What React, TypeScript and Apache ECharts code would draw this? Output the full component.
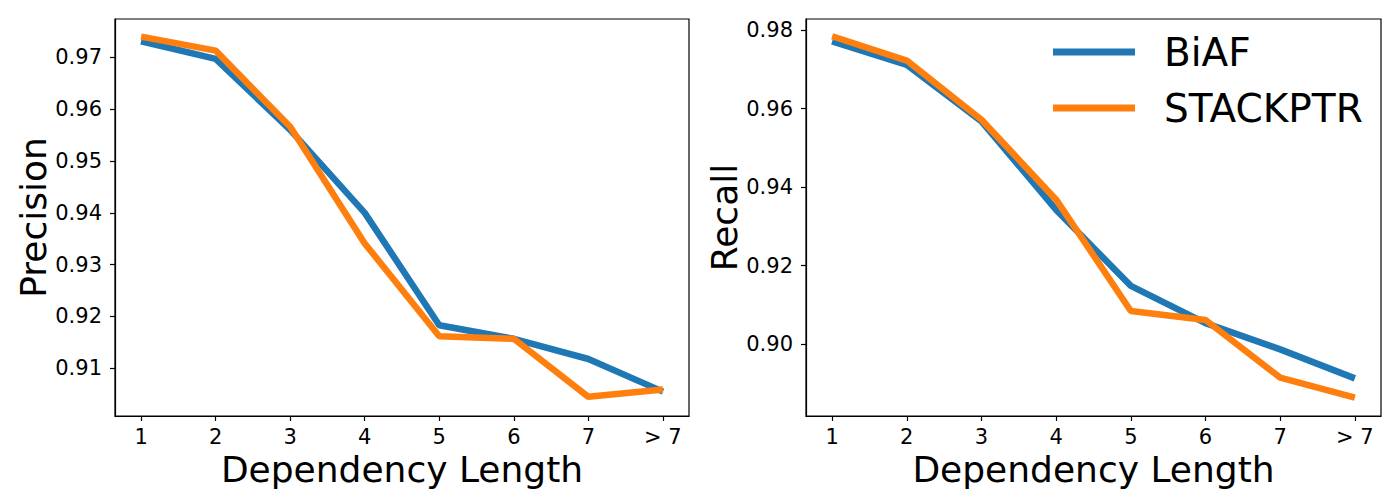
import React, { useEffect, useRef } from "react";
import * as echarts from "echarts";

const xLabels = ["1", "2", "3", "4", "5", "6", "7", "> 7"];
const seriesNames = ["BiAF", "STACKPTR"];

const precisionBiAF = [0.9731, 0.9697, 0.956, 0.94, 0.9183, 0.9157, 0.9118, 0.9055];
const precisionStack = [0.974, 0.9713, 0.9566, 0.9341, 0.9162, 0.9157, 0.9045, 0.9059];

const recallBiAF = [0.9772, 0.9712, 0.9568, 0.9342, 0.9148, 0.9053, 0.8986, 0.8912];
const recallStack = [0.9785, 0.9723, 0.9572, 0.9368, 0.9084, 0.9061, 0.8914, 0.8863];

const precisionTicks = [0.91, 0.92, 0.93, 0.94, 0.95, 0.96, 0.97];
const recallTicks = [0.9, 0.92, 0.94, 0.96, 0.98];
const xTicks = [0, 1, 2, 3, 4, 5, 6, 7];

const BLUE = "#1f77b4";
const ORANGE = "#ff7f0e";
const FONT = "DejaVu Sans";

function toPairs(vals: number[]) {
  return vals.map((v, i) => [i, v]);
}

export default function App() {
  const ref = useRef<HTMLDivElement>(null);

  useEffect(() => {
    document.body.style.margin = "0";
    if (!ref.current) return;
    const chart = echarts.init(ref.current, undefined, { renderer: "svg" });

    const xAxisBase = (gridIndex: number) => ({
      type: "value",
      gridIndex,
      min: -0.35,
      max: 7.35,
      name: "Dependency Length",
      nameLocation: "middle",
      nameGap: 31,
      nameTextStyle: { fontSize: 36, fontFamily: FONT, color: "#000" },
      splitLine: { show: false },
      axisLine: { show: true, onZero: false, lineStyle: { color: "#000", width: 1.2 } },
      axisTick: { show: true, customValues: xTicks, length: 5, lineStyle: { color: "#000", width: 1.2 } },
      axisLabel: {
        customValues: xTicks,
        formatter: (v: number) => xLabels[Math.round(v)] ?? "",
        fontSize: 21,
        fontFamily: FONT,
        color: "#000",
        margin: 10,
      },
    });

    const yAxisBase = (gridIndex: number, name: string, min: number, max: number, ticks: number[], gap: number) => ({
      type: "value",
      gridIndex,
      min,
      max,
      name,
      nameLocation: "middle",
      nameGap: gap,
      nameTextStyle: { fontSize: 36, fontFamily: FONT, color: "#000" },
      splitLine: { show: false },
      axisLine: { show: true, onZero: false, lineStyle: { color: "#000", width: 1.2 } },
      axisTick: { show: true, customValues: ticks, length: 5, lineStyle: { color: "#000", width: 1.2 } },
      axisLabel: {
        customValues: ticks,
        formatter: (v: number) => v.toFixed(2),
        fontSize: 21,
        fontFamily: FONT,
        color: "#000",
        margin: 13,
      },
    });

    const lineSeries = (name: string, color: string, vals: number[], idx: number) => ({
      type: "line",
      name,
      xAxisIndex: idx,
      yAxisIndex: idx,
      data: toPairs(vals),
      showSymbol: false,
      symbol: "none",
      lineStyle: { color, width: 6.5 },
      itemStyle: { color },
      clip: true,
    });

    chart.setOption({
      animation: false,
      backgroundColor: "#fff",
      textStyle: { fontFamily: FONT },
      grid: [
        { left: 115, top: 19, width: 574, height: 397, show: true, borderColor: "#000", borderWidth: 1.2, backgroundColor: "transparent" },
        { left: 806, top: 19, width: 575, height: 397, show: true, borderColor: "#000", borderWidth: 1.2, backgroundColor: "transparent" },
      ],
      legend: {
        data: seriesNames,
        orient: "vertical",
        left: 1053,
        top: 30,
        padding: 0,
        icon: "rect",
        itemWidth: 82,
        itemHeight: 7,
        itemGap: 12,
        textStyle: { fontSize: 39, fontFamily: FONT, color: "#000", lineHeight: 44, padding: [0, 0, 0, 24] },
      },
      xAxis: [xAxisBase(0), xAxisBase(1)],
      yAxis: [
        yAxisBase(0, "Precision", 0.9008, 0.9774, precisionTicks, 64),
        yAxisBase(1, "Recall", 0.8816, 0.9829, recallTicks, 64),
      ],
      series: [
        lineSeries(seriesNames[0], BLUE, precisionBiAF, 0),
        lineSeries(seriesNames[1], ORANGE, precisionStack, 0),
        lineSeries(seriesNames[0], BLUE, recallBiAF, 1),
        lineSeries(seriesNames[1], ORANGE, recallStack, 1),
      ],
    });

    return () => chart.dispose();
  }, []);

  return <div ref={ref} style={{ width: 1400, height: 500 }} />;
}
